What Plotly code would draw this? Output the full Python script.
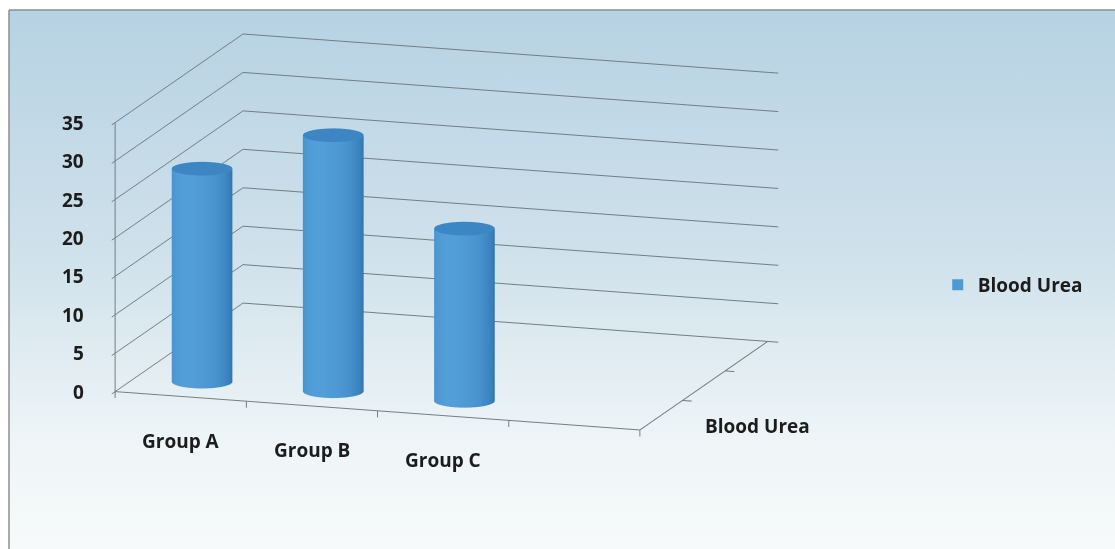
import urllib.parse
import numpy as np
import plotly.graph_objects as go

# ---- data -------------------------------------------------------------
categories = ["Group A", "Group B", "Group C"]
blood_urea = [27.7, 33.3, 22.4]
series_name = "Blood Urea"
value_ticks = [0, 5, 10, 15, 20, 25, 30, 35]

# ---- floor geometry (scene units) ------------------------------------
N_CAT_SLOTS = 4      # category slots along the front edge
N_DEPTH_SLOTS = 3    # series slots going back
SERIES_SLOT = 0      # the single series stands in the front slot
RADIUS = 0.22
LINE_COLOR = "#737d83"
TEXT_FONT = dict(family="Open Sans", size=19, color="#1c1c1c", weight=700)

SIDE_DARK = np.array([40, 108, 168])
SIDE_LIGHT = np.array([82, 158, 216])
TOP_RGB = (60, 134, 196)
LIGHT_ANGLE = np.deg2rad(260)   # light comes from the front, a little left


def rgb(c):
    return "rgb(%d,%d,%d)" % tuple(int(round(v)) for v in c)


def cylinder(xc, yc, h, r=RADIUS, n=72):
    """Closed cylinder standing on z=0, with per-vertex shading colours."""
    t = np.linspace(0, 2 * np.pi, n, endpoint=False)
    cx, cy = xc + r * np.cos(t), yc + r * np.sin(t)
    f = np.cos(t - LIGHT_ANGLE)
    w = np.clip((f + 0.5) / 1.5, 0, 1) ** 0.8
    side = [rgb(SIDE_DARK + (SIDE_LIGHT - SIDE_DARK) * wi) for wi in w]
    xs = list(cx) + list(cx) + list(cx) + [xc]
    ys = list(cy) + list(cy) + list(cy) + [yc]
    zs = [0.0] * n + [h] * n + [h] * n + [h]
    cols = side + side + [rgb(TOP_RGB)] * (n + 1)
    I, J, K = [], [], []
    for a in range(n):
        b = (a + 1) % n
        I += [a, b]
        J += [b, n + b]
        K += [n + a, n + a]
    for a in range(n):
        b = (a + 1) % n
        I.append(2 * n + a)
        J.append(2 * n + b)
        K.append(3 * n)
    return xs, ys, zs, I, J, K, cols


fig = go.Figure()

# cylinders
depth_c = SERIES_SLOT + 0.5
for idx, (cat, val) in enumerate(zip(categories, blood_urea)):
    xs, ys, zs, I, J, K, cols = cylinder(idx + 0.5, depth_c, val)
    fig.add_trace(go.Mesh3d(
        x=xs, y=ys, z=zs, i=I, j=J, k=K, vertexcolor=cols,
        flatshading=False, showlegend=False, name=cat, hoverinfo="skip",
        lighting=dict(ambient=1.0, diffuse=0.0, specular=0.0,
                      roughness=1.0, fresnel=0.0),
    ))


# floor edges, value axis line and tick marks, one line trace each
def line3d(p, q, width=2):
    fig.add_trace(go.Scatter3d(
        x=[p[0], q[0]], y=[p[1], q[1]], z=[p[2], q[2]], mode="lines",
        line=dict(color=LINE_COLOR, width=width),
        showlegend=False, hoverinfo="skip"))


line3d((0, 0, 0), (N_CAT_SLOTS, 0, 0))
line3d((N_CAT_SLOTS, 0, 0), (N_CAT_SLOTS, N_DEPTH_SLOTS, 0))
line3d((0, 0, 0), (0, 0, value_ticks[-1]))
for k in range(N_CAT_SLOTS + 1):
    line3d((k, 0, 0), (k, 0, -0.85))
for k in range(1, N_DEPTH_SLOTS):
    line3d((N_CAT_SLOTS, k, 0), (N_CAT_SLOTS + 0.07, k, 0))

# legend entry
fig.add_trace(go.Scatter(x=[None], y=[None], mode="markers", name=series_name,
                         marker=dict(symbol="square", size=11, color="#4f9bd1")))

# tick labels placed in the scene
ann = []
for v in value_ticks:
    ann.append(dict(x=0, y=0, z=v, text=str(v), showarrow=False,
                    xanchor="right", xshift=-29, font=TEXT_FONT))
for idx, cat in enumerate(categories):
    ann.append(dict(x=idx + 0.5, y=0, z=0, text=cat, showarrow=False,
                    yshift=-44, font=TEXT_FONT))
ann.append(dict(x=N_CAT_SLOTS, y=depth_c, z=0, text=series_name, showarrow=False,
                xanchor="left", xshift=42, yshift=-11, font=TEXT_FONT))

hidden = dict(showgrid=False, zeroline=False, showline=False, showticklabels=False,
              ticks="", title=dict(text=""), showbackground=False, showspikes=False)

xr = [0, N_CAT_SLOTS + 0.08]
yr = [-0.08, N_DEPTH_SLOTS]
zr = [-0.9, value_ticks[-1]]
u = 0.582
kz = 0.0572
fig.update_layout(
    width=1115, height=549,
    margin=dict(l=0, r=0, t=0, b=0),
    paper_bgcolor="white",
    plot_bgcolor="rgba(0,0,0,0)",
    showlegend=True,
    legend=dict(x=0.841, y=0.481, xanchor="left", yanchor="middle",
                bgcolor="rgba(0,0,0,0)", font=TEXT_FONT),
    xaxis=dict(visible=False), yaxis=dict(visible=False),
    scene=dict(
        domain=dict(x=[0, 0.798], y=[0.136, 1]),
        bgcolor="rgba(0,0,0,0)",
        xaxis=dict(range=xr, **hidden),
        yaxis=dict(range=yr, **hidden),
        zaxis=dict(range=zr, tickmode="array", tickvals=value_ticks,
                   showgrid=True, gridcolor=LINE_COLOR, gridwidth=2,
                   zeroline=False, showline=False, showticklabels=False,
                   ticks="", title=dict(text=""), showbackground=False,
                   showspikes=False),
        aspectmode="manual",
        aspectratio=dict(x=(xr[1] - xr[0]) * u, y=(yr[1] - yr[0]) * u,
                         z=(zr[1] - zr[0]) * kz * u),
        camera=dict(projection=dict(type="orthographic"),
                    eye=dict(x=0.903, y=-2.780, z=0.675),
                    up=dict(x=0, y=0, z=1), center=dict(x=0, y=0, z=0)),
        annotations=ann,
    ),
)

# chart area: light blue wash fading to white, framed at top and left
grad_svg = (
    "<svg xmlns='http://www.w3.org/2000/svg' width='100' height='100' preserveAspectRatio='none'>"
    "<defs><linearGradient id='g' x1='0' y1='0' x2='0' y2='1'>"
    "<stop offset='0' stop-color='#b6d2e3'/>"
    "<stop offset='0.45' stop-color='#cfe1eb'/>"
    "<stop offset='0.8' stop-color='#eef5f7'/>"
    "<stop offset='1' stop-color='#f7fafa'/>"
    "</linearGradient></defs><rect width='100' height='100' fill='url(#g)'/></svg>"
)
fig.add_layout_image(dict(
    source="data:image/svg+xml;charset=utf-8," + urllib.parse.quote(grad_svg),
    xref="paper", yref="paper", x=9 / 1115, y=1 - 10 / 549,
    sizex=1 - 9 / 1115, sizey=1 - 10 / 549, sizing="stretch",
    xanchor="left", yanchor="top", layer="below"))
fig.add_shape(type="line", xref="paper", yref="paper",
              x0=9 / 1115, x1=1, y0=1 - 10 / 549, y1=1 - 10 / 549,
              line=dict(color="#8e8e8e", width=1.5))
fig.add_shape(type="line", xref="paper", yref="paper",
              x0=9 / 1115, x1=9 / 1115, y0=0, y1=1 - 10 / 549,
              line=dict(color="#8e8e8e", width=1.5))

fig.write_html("out.html")
